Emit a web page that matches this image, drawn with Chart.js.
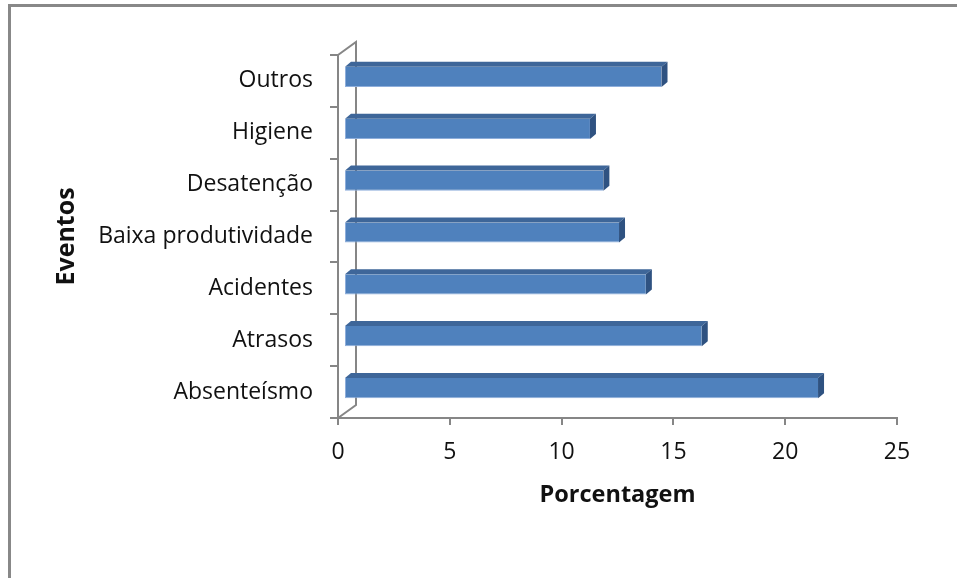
<!DOCTYPE html>
<html>
<head>
<meta charset="utf-8">
<script src="https://cdn.jsdelivr.net/npm/chart.js@4.4.1/dist/chart.umd.min.js"></script>
<style>
  html, body { margin: 0; padding: 0; background: #fff; }
  #wrap { position: relative; width: 957px; height: 578px; }
  #frame { position: absolute; left: 8px; top: 4px; width: 960px; height: 600px; border: 3px solid #888; box-sizing: border-box; }
</style>
</head>
<body>
<div id="wrap">
  <div id="frame"></div>
  <canvas id="eventosChart" width="957" height="578"></canvas>
</div>
<script>
// ── Dados ──
const eventos = ['Absenteísmo', 'Atrasos', 'Acidentes', 'Baixa produtividade', 'Desatenção', 'Higiene', 'Outros'];
const porcentagem = [21.2, 16.0, 13.5, 12.3, 11.6, 11.0, 14.2];
const ticksX = [0, 5, 10, 15, 20, 25];

const FONTE = '"Open Sans", "Noto Sans", sans-serif';
const CINZA = '#868686';

// profundidade do "3D"
const PAREDE = { dx: 18, dy: 13 };
const BARRA = { off: 6, up: 4, dx: 6, dy: 5 };

// ── Plugin: parede de fundo + faces 3D das barras ──
const efeito3d = {
  id: 'efeito3d',
  beforeDraw(chart) {
    const { ctx, chartArea: a } = chart;
    ctx.save();
    ctx.strokeStyle = CINZA;
    ctx.lineWidth = 2;
    ctx.beginPath();
    ctx.moveTo(a.left, a.top);
    ctx.lineTo(a.left + PAREDE.dx, a.top - PAREDE.dy);
    ctx.lineTo(a.left + PAREDE.dx, a.bottom - PAREDE.dy);
    ctx.lineTo(a.left, a.bottom);
    ctx.stroke();
    ctx.restore();
  },
  beforeDatasetsDraw(chart) {
    chart.ctx.save();
    chart.ctx.translate(BARRA.off, -BARRA.up);
  },
  afterDatasetsDraw(chart) {
    const { ctx } = chart;
    chart.getDatasetMeta(0).data.forEach(bar => {
      const p = bar.getProps(['x', 'y', 'base', 'height'], true);
      const xl = p.base, xr = p.x;
      const yt = p.y - p.height / 2, yb = p.y + p.height / 2;
      // topo
      ctx.fillStyle = '#3e6699';
      ctx.beginPath();
      ctx.moveTo(xl, yt);
      ctx.lineTo(xl + BARRA.dx, yt - BARRA.dy);
      ctx.lineTo(xr + BARRA.dx, yt - BARRA.dy);
      ctx.lineTo(xr, yt);
      ctx.closePath();
      ctx.fill();
      // lado
      ctx.fillStyle = '#2f5281';
      ctx.beginPath();
      ctx.moveTo(xr, yt);
      ctx.lineTo(xr + BARRA.dx, yt - BARRA.dy);
      ctx.lineTo(xr + BARRA.dx, yb - BARRA.dy);
      ctx.lineTo(xr, yb);
      ctx.closePath();
      ctx.fill();
    });
    ctx.restore();
  }
};

new Chart(document.getElementById('eventosChart'), {
  type: 'bar',
  data: {
    labels: eventos,
    datasets: [{
      data: porcentagem,
      backgroundColor: '#4f81bd',
      borderColor: '#8eaedb',
      borderWidth: { left: 1, bottom: 1, top: 0, right: 0 },
      borderSkipped: false,
      barPercentage: 0.39,
      categoryPercentage: 1,
      clip: false
    }]
  },
  plugins: [efeito3d],
  options: {
    indexAxis: 'y',
    responsive: false,
    animation: false,
    layout: { padding: { top: 55, right: 60, left: 0, bottom: 0 } },
    plugins: { legend: { display: false }, tooltip: { enabled: false } },
    scales: {
      x: {
        min: 0, max: 25,
        afterBuildTicks: s => { s.ticks = ticksX.map(v => ({ value: v })); },
        afterFit: s => { s.height = 160; },
        grid: { drawOnChartArea: false, drawTicks: true, tickLength: 7, color: CINZA, lineWidth: 2 },
        border: { color: CINZA, width: 2 },
        ticks: { color: '#111', font: { family: FONTE, size: 23 }, padding: 14, maxRotation: 0 },
        title: {
          display: true, text: 'Porcentagem', color: '#111',
          font: { family: FONTE, size: 23.5, weight: 'bold' },
          padding: { top: 0, bottom: 69 }
        }
      },
      y: {
        reverse: true,
        afterFit: s => { s.width = 338; },
        grid: { drawOnChartArea: false, drawTicks: true, tickLength: 8, color: CINZA, lineWidth: 2, offset: true },
        border: { color: CINZA, width: 2 },
        ticks: { color: '#111', font: { family: FONTE, size: 23 }, padding: 17 },
        title: {
          display: true, text: 'Eventos', color: '#111',
          font: { family: FONTE, size: 25, weight: 'bold' },
          padding: { top: 52, bottom: 0 }
        }
      }
    }
  }
});
</script>
</body>
</html>
